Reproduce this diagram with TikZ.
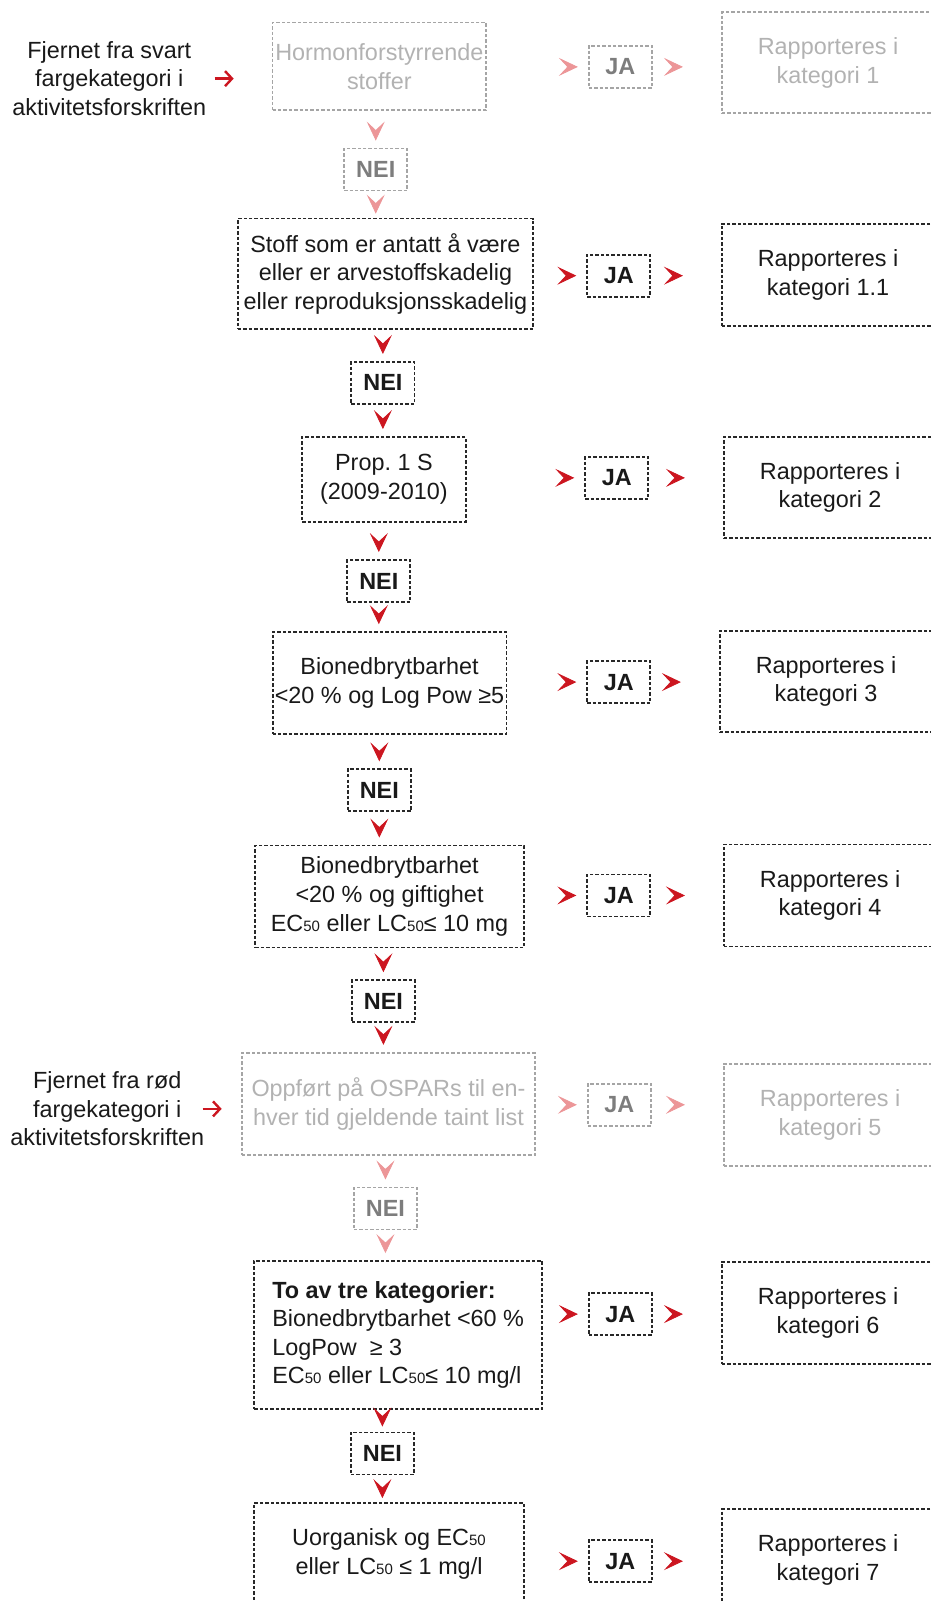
\documentclass[tikz,border=0pt]{standalone}
\usepackage{fontspec}
\setmainfont{Liberation Sans}
\usetikzlibrary{arrows.meta, decorations.markings, positioning}
\frenchspacing

\definecolor{chevred}{RGB}{204,22,32}
\definecolor{chevpale}{RGB}{236,150,152}
\definecolor{boxline}{RGB}{40,40,40}
\definecolor{paleline}{RGB}{165,165,165}
\definecolor{paletext}{RGB}{178,178,178}
\definecolor{paleyn}{RGB}{125,125,125}

\newcommand{\lowsub}[1]{{\fontsize{7.5}{8}\selectfont #1}}
\newcommand{\txtsize}{\fontsize{11.7}{14.3}\selectfont}

\tikzstyle{crit} = [draw=boxline, line width=0.9pt,
dash pattern=on 1.7pt off 1.0pt,
inner sep=0pt, align=center, text=black!90,
font=\txtsize]
\tikzstyle{inarrow} = [-{Straight Barb[length=3.5pt,width=7.5pt]}, line width=1.2pt, chevred]

\begin{document}
\begin{tikzpicture}[
        x=0.5104pt, y=-0.5104pt,
        chevtip/.tip={Stealth[length=9.5pt,width=9pt,inset=4.2pt]},
        answer/.style={crit, minimum width=31.5pt, minimum height=21pt, font=\txtsize\bfseries},
        result/.style={crit, minimum width=106.2pt, minimum height=51pt},
        source/.style={align=center, inner sep=0pt, font=\txtsize, text=black!90},
        paled/.style={draw=paleline, text=paletext},
        paledyn/.style={draw=paleline, text=paleyn},
        chev/.style={postaction=decorate, decoration={markings,
            mark=at position -#1 with {\arrow[chevred]{chevtip}}}},
        chev/.default=3.5pt,
        chevfade/.style={postaction=decorate, decoration={markings,
            mark=at position -#1 with {\arrow[chevpale]{chevtip}}}},
        chevfade/.default=3.5pt,
    ]
    \useasboundingbox (0,0) rectangle (911,1568);

    % svart fargekategori
    \node[source] (src1) at (107,77) {Fjernet fra svart\\fargekategori i\\aktivitetsforskriften};
    \node[crit, paled, minimum width=106.7pt, minimum height=43.9pt] (box1) at (371.5,65) {Hormonforstyrrende\\stoffer};
    \node[answer, paledyn] (ja1) at (607.5,65.5) {JA};
    \node[result, paled, minimum height=50.5pt] (r1) at (811,61.5) {Rapporteres i\\kategori 1};
    \node[answer, paledyn] (nei1) at (368,166) {NEI};

    \node[crit, minimum width=147.5pt, minimum height=55.1pt] (box2) at (377.5,268) {Stoff som er antatt å være\\eller er arvestoffskadelig\\eller reproduksjonsskadelig};
    \node[answer] (ja2) at (606,270) {JA};
    \node[result] (r2) at (811,269) {Rapporteres i\\kategori 1.1};
    \node[answer] (nei2) at (375,375) {NEI};

    \node[crit, minimum width=81.7pt, minimum height=42.4pt] (box3) at (376,469.5) {Prop. 1 S\\(2009-2010)};
    \node[answer] (ja3) at (604,468) {JA};
    \node[result, minimum height=50.5pt] (r3) at (813,477.5) {Rapporteres i\\kategori 2};
    \node[answer] (nei3) at (371,569) {NEI};

    \node[crit, minimum width=116.9pt, minimum height=51pt] (box4) at (381.5,669) {Bionedbrytbarhet\\<20 \% og Log Pow ≥5};
    \node[answer] (ja4) at (606,668) {JA};
    \node[result, minimum height=50.5pt] (r4) at (809,667.5) {Rapporteres i\\kategori 3};
    \node[answer] (nei4) at (371.5,774) {NEI};

    \node[crit, minimum width=134.2pt, minimum height=51pt] (box5) at (381.5,878) {Bionedbrytbarhet\\<20 \% og giftighet\\EC\lowsub{50} eller LC\lowsub{50}≤ 10 mg};
    \node[answer] (ja5) at (606,877) {JA};
    \node[result] (r5) at (813,877) {Rapporteres i\\kategori 4};
    \node[answer] (nei5) at (375.5,980.5) {NEI};

    % rød fargekategori
    \node[source] (src2) at (105,1086) {Fjernet fra rød\\fargekategori i\\aktivitetsforskriften};
    \node[crit, paled, minimum width=146.5pt, minimum height=51pt] (box6) at (380.5,1081) {Oppført på OSPARs til en-\\hver tid gjeldende taint list};
    \node[answer, paledyn] (ja6) at (606.5,1082) {JA};
    \node[result, paled] (r6) at (813,1092) {Rapporteres i\\kategori 5};
    \node[answer, paledyn] (nei6) at (377.5,1183.5) {NEI};

    \node[crit, align=left, minimum width=143.9pt, minimum height=74pt] (box7) at (390,1307.5) {\textbf{To av tre kategorier:}\\Bionedbrytbarhet <60 \%\\LogPow\ \ ≥ 3\\EC\lowsub{50} eller LC\lowsub{50}≤ 10 mg/l};
    \node[answer] (ja7) at (607.5,1287) {JA};
    \node[result] (r7) at (811,1286) {Rapporteres i\\kategori 6};
    \node[answer] (nei7) at (374.5,1423.5) {NEI};

    \node[crit, minimum width=134.7pt, minimum height=51pt] (box8) at (381,1522) {Uorganisk og EC\lowsub{50}\\eller LC\lowsub{50} ≤ 1 mg/l};
    \node[answer] (ja8) at (607.5,1529) {JA};
    \node[result] (r8) at (811,1528) {Rapporteres i\\kategori 7};

    % inngangspiler
    \draw[inarrow, shorten <=4pt, shorten >=19pt] (src1.east) -- (src1.east -| box1.west);
    \draw[inarrow, shorten <=-1pt, shorten >=9.7pt] (src2.east) -- (src2.east -| box6.west);

    % JA-piler
    \path[chevfade=5pt] (box1.east |- ja1.west) -- (ja1.west);
    \path[chevfade=19pt] (ja1.east) -- (ja1.east -| r1.west);
    \path[chev=5pt] (box2.east |- ja2.west) -- (ja2.west);
    \path[chev=19pt] (ja2.east) -- (ja2.east -| r2.west);
    \path[chev=5pt] (box3.east |- ja3.west) -- (ja3.west);
    \path[chev=19pt] (ja3.east) -- (ja3.east -| r3.west);
    \path[chev=5pt] (box4.east |- ja4.west) -- (ja4.west);
    \path[chev=19pt] (ja4.east) -- (ja4.east -| r4.west);
    \path[chev=5pt] (box5.east |- ja5.west) -- (ja5.west);
    \path[chev=19pt] (ja5.east) -- (ja5.east -| r5.west);
    \path[chevfade=5pt] (box6.east |- ja6.west) -- (ja6.west);
    \path[chevfade=19pt] (ja6.east) -- (ja6.east -| r6.west);
    \path[chev=5pt] (box7.east |- ja7.west) -- (ja7.west);
    \path[chev=19pt] (ja7.east) -- (ja7.east -| r7.west);
    \path[chev=5pt] (box8.east |- ja8.west) -- (ja8.west);
    \path[chev=19pt] (ja8.east) -- (ja8.east -| r8.west);

    % NEI-piler
    \path[chevfade] (box1.south -| nei1.north) -- (nei1.north);
    \path[chevfade=2pt] (nei1.south) -- (nei1.south |- box2.north);
    \path[chev] (box2.south -| nei2.north) -- (nei2.north);
    \path[chev] (nei2.south) -- (nei2.south |- box3.north);
    \path[chev] (box3.south -| nei3.north) -- (nei3.north);
    \path[chev] (nei3.south) -- (nei3.south |- box4.north);
    \path[chev] (box4.south -| nei4.north) -- (nei4.north);
    \path[chev] (nei4.south) -- (nei4.south |- box5.north);
    \path[chev] (box5.south -| nei5.north) -- (nei5.north);
    \path[chev] (nei5.south) -- (nei5.south |- box6.north);
    \path[chevfade] (box6.south -| nei6.north) -- (nei6.north);
    \path[chevfade] (nei6.south) -- (nei6.south |- box7.north);
    \path[chev=2.5pt] (box7.south -| nei7.north) -- (nei7.north);
    \path[chev=2pt] (nei7.south) -- (nei7.south |- box8.north);
\end{tikzpicture}
\end{document}
